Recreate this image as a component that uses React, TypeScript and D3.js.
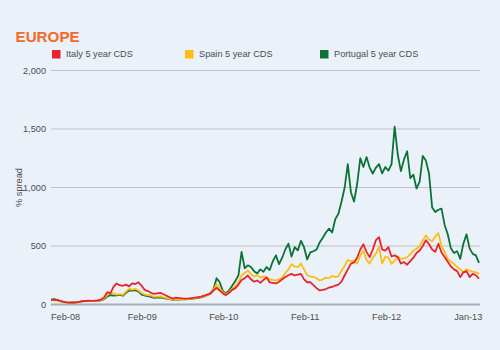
import React from "react";
import * as d3 from "d3";

// ---- data (fortnightly observations starting 2007-12-20) ----
const startDate = "2007-12-20";
const stepDays = 14;

const italy = [
  38, 42, 38, 30, 22, 18, 16, 17, 18, 22, 28, 30, 32, 31, 33, 35, 42, 60, 105, 95,
  150, 180, 165, 160, 170, 155, 180, 175, 190, 160, 125, 115, 100, 90, 95, 100, 88, 75, 62, 50,
  58, 55, 52, 50, 52, 55, 58, 62, 68, 75, 85, 92, 118, 143, 120, 95, 80, 100, 125, 140,
  170, 210, 225, 248, 215, 195, 205, 185, 210, 230, 190, 185, 180, 195, 215, 235, 250, 262, 248, 255,
  262, 215, 190, 192, 165, 140, 120, 125, 132, 145, 150, 162, 170, 195, 250, 300, 350, 360, 400, 470,
  515, 450, 405, 470, 550, 575, 470, 460, 490, 410, 420, 405, 350, 362, 340, 370, 400, 440, 462, 500,
  550, 515, 470, 450, 519, 445, 405, 365, 325, 300, 285, 234, 275, 285, 235, 262, 250, 220,
];

const spain = [
  35, 38, 33, 25, 20, 16, 15, 16, 18, 22, 27, 29, 30, 30, 31, 33, 38, 50, 80, 100,
  95, 85, 88, 82, 110, 134, 128, 134, 120, 98, 85, 80, 75, 65, 68, 70, 60, 55, 48, 42,
  46, 45, 44, 45, 48, 50, 55, 58, 63, 70, 80, 90, 125, 175, 140, 105, 88, 105, 135, 155,
  190, 250, 270, 290, 260, 240, 250, 230, 240, 235, 215, 210, 205, 215, 230, 270, 300, 345, 325, 320,
  350, 300, 250, 240, 235, 225, 205, 215, 230, 225, 245, 235, 240, 290, 330, 380, 370, 375, 350, 420,
  460, 380, 350, 400, 435, 490, 350, 410, 400, 348, 375, 405, 390, 395, 405, 430, 462, 475, 500, 547,
  590, 555, 540, 580, 610, 500, 450, 390, 365, 348, 320, 300, 276, 300, 290, 280, 275, 262,
];

const portugal = [
  42, 45, 40, 30, 22, 18, 16, 16, 18, 22, 26, 28, 30, 30, 30, 32, 35, 45, 68, 80,
  75, 78, 82, 75, 100, 120, 118, 122, 110, 85, 77, 72, 65, 57, 62, 60, 55, 50, 45, 40,
  42, 42, 43, 44, 46, 48, 52, 55, 60, 68, 80, 95, 130, 225, 190, 115, 95, 120, 160, 200,
  250, 450, 310, 335, 320, 285, 265, 300, 280, 320, 295, 370, 420, 345, 400, 470, 520, 410, 490, 462,
  545, 490, 385, 445, 455, 470, 530, 570, 615, 648, 615, 730, 775, 880, 1000, 1200, 960, 880, 1030, 1250,
  1175, 1260, 1170, 1120, 1170, 1200, 1120, 1175, 1145, 1200, 1520, 1280, 1140, 1240, 1310, 1080, 1110, 990, 1050, 1270,
  1230, 1120, 830, 790, 810, 820, 680, 600, 480, 440, 455, 390, 520, 600, 480, 433, 420, 355,
];

const seriesNames = ["Italy 5 year CDS", "Spain 5 year CDS", "Portugal 5 year CDS"];
const seriesColors = ["#e8232b", "#fdbd13", "#0b7236"];

const yTicks = [0, 500, 1000, 1500, 2000];
const xTickDates = ["2008-02-01", "2009-02-01", "2010-02-01", "2011-02-01", "2012-02-01", "2013-02-01"];
const xTickLabels = ["Feb-08", "Feb-09", "Feb-10", "Feb-11", "Feb-12", "Jan-13"];

const W = 500;
const H = 350;
const FONT = "'Liberation Sans', Arial, Helvetica, sans-serif";
const FS = 9.2;

export default function App() {
  const parse = d3.timeParse("%Y-%m-%d");
  const start = parse(startDate) as Date;
  const dates = d3.range(italy.length).map((i) => d3.timeDay.offset(start, i * stepDays));

  const x = d3
    .scaleTime()
    .domain([dates[0], dates[dates.length - 1]])
    .range([51, 479]);
  const y = d3.scaleLinear().domain([0, 2000]).range([304.5, 70.5]);

  const line = d3
    .line<number>()
    .x((_, i) => x(dates[i]))
    .y((d) => y(d))
    .curve(d3.curveLinear);

  const all = [italy, spain, portugal];
  const drawOrder = [2, 1, 0];

  const legendX = [52, 185, 320];

  return (
    <div style={{ position: "absolute", left: 0, top: 0 }}>
      <svg width={W} height={H} style={{ display: "block", background: "#eaf1f8" }}>
        <rect x={0} y={0} width={W} height={H} fill="#eaf1f8" />
        <text x={15.5} y={42.3} fill="#f26a25" fontFamily={FONT} fontWeight="bold" fontSize={15.2}>
          EUROPE
        </text>

        {seriesNames.map((name, k) => (
          <g key={name}>
            <rect x={legendX[k]} y={50} width={8.5} height={8.5} fill={seriesColors[k]} />
            <text x={legendX[k] + 14} y={57.4} fontFamily={FONT} fontSize={FS} fill="#4d4d4d">
              {name}
            </text>
          </g>
        ))}

        {yTicks.map((t) => (
          <g key={t}>
            <line
              x1={51}
              x2={480}
              y1={y(t)}
              y2={y(t)}
              stroke={t === 0 ? "#a8adb5" : "#c0c3c8"}
              strokeWidth={t === 0 ? 2 : 1}
            />
            <text
              x={46}
              y={y(t) + 3.3}
              textAnchor="end"
              fontFamily={FONT}
              fontSize={FS}
              fill="#4d4d4d"
            >
              {d3.format(",")(t)}
            </text>
          </g>
        ))}

        <text
          transform={`translate(21.5,${y(1000)}) rotate(-90)`}
          textAnchor="middle"
          fontFamily={FONT}
          fontSize={FS}
          fill="#4d4d4d"
        >
          % spread
        </text>

        {xTickDates.map((ds, k) => {
          const px = x(parse(ds) as Date);
          const first = k === 0;
          return (
            <text
              key={ds}
              x={first ? 51 : px}
              y={320}
              textAnchor={first ? "start" : "middle"}
              fontFamily={FONT}
              fontSize={FS}
              fill="#4d4d4d"
            >
              {xTickLabels[k]}
            </text>
          );
        })}

        {drawOrder.map((k) => (
          <path
            key={k}
            d={line(all[k]) || ""}
            fill="none"
            stroke={seriesColors[k]}
            strokeWidth={1.8}
            strokeLinejoin="round"
          />
        ))}
      </svg>
    </div>
  );
}
